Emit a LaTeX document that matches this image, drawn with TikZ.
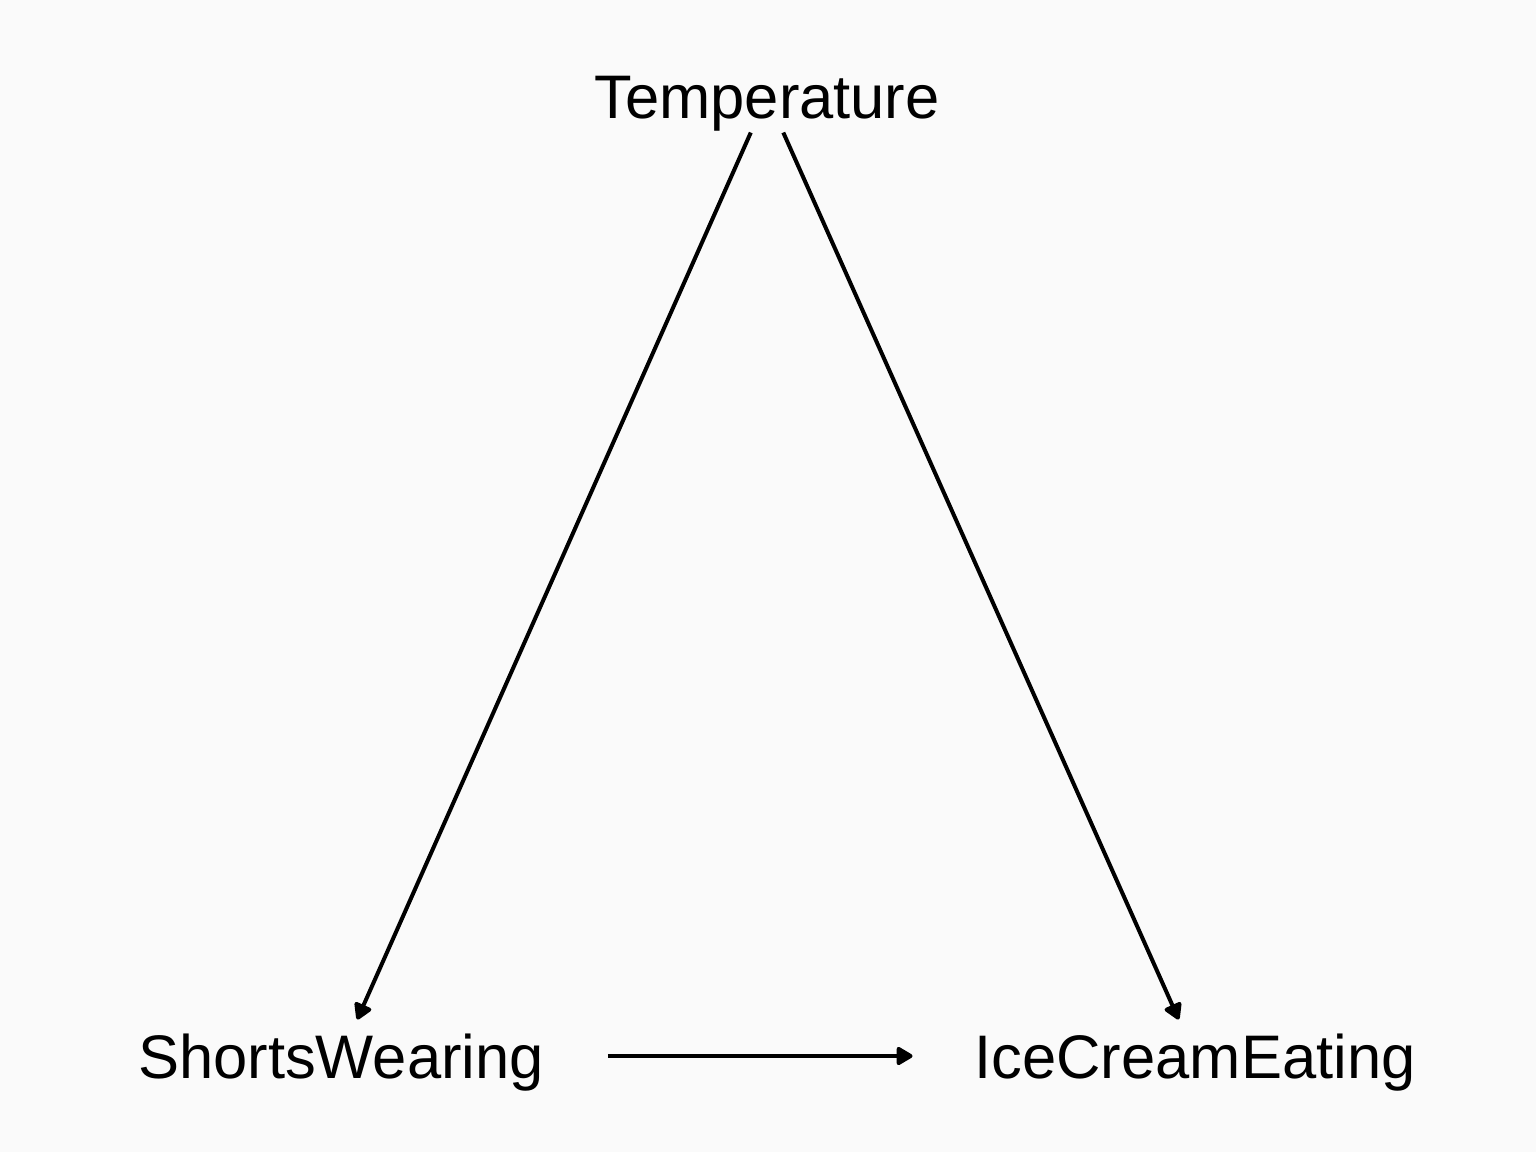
\documentclass[tikz,border=0pt]{standalone}
\usepackage{fontspec}
\setmainfont{Liberation Sans}
\usetikzlibrary{arrows.meta}
\definecolor{bgc}{RGB}{250,250,250}
\tikzset{
  lbl/.style={inner sep=0pt, outer sep=0pt, font=\fontsize{61.5}{72}\selectfont, text height=44pt, text depth=0pt},
  conn/.style={line width=4pt, -{Triangle[length=18pt,width=20pt,round]}}
}
\begin{document}
\begin{tikzpicture}[x=1pt,y=-1pt]
\fill[bgc] (0,0) rectangle (1536,1152);
\useasboundingbox (0,0) rectangle (1536,1152);
\node[lbl] (T) at (767,96) {Temperature};
\node[lbl] (S) at (341,1056) {ShortsWearing};
\node[lbl] (I) at (1195,1056) {IceCreamEating};
\draw[conn, shorten <=40pt, shorten >=40pt] (T.center) -- (S.center);
\draw[conn, shorten <=40pt, shorten >=40pt] (T.center) -- (I.center);
\draw[conn, shorten <=64pt, shorten >=62pt] (S.east) -- (I.west);
\end{tikzpicture}
\end{document}
